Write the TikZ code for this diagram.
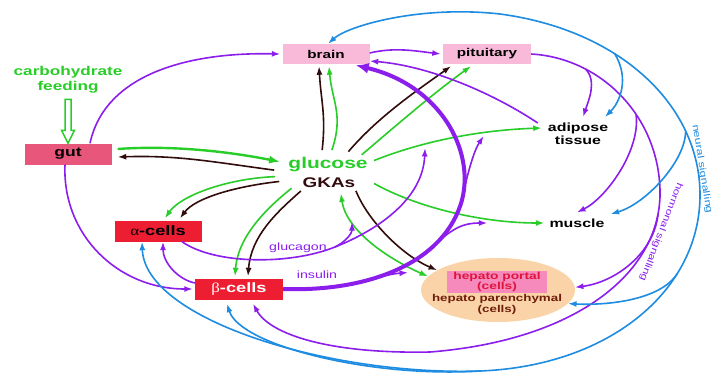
\documentclass[tikz,border=0pt]{standalone}
\usepackage{fontspec}
\setmainfont{Liberation Sans}[FakeStretch=1.35]
\newfontfamily\grk{Liberation Serif}[FakeStretch=1.25]
\usetikzlibrary{arrows.meta,shapes.geometric}
\definecolor{pur}{RGB}{140,30,235}
\definecolor{grn}{RGB}{40,205,40}
\definecolor{drk}{RGB}{50,12,12}
\definecolor{blu}{RGB}{30,140,225}
\definecolor{pinkbx}{RGB}{248,186,216}
\definecolor{gutc}{RGB}{232,86,124}
\definecolor{redbx}{RGB}{238,30,50}
\definecolor{portalc}{RGB}{246,138,188}
\definecolor{portalt}{RGB}{222,20,60}
\definecolor{peach}{RGB}{250,212,168}
\definecolor{brn}{RGB}{110,30,10}
\begin{document}
\begin{tikzpicture}[x=1pt,y=-1pt,
  atip/.style={-{Latex[length=8.5pt,width=6pt]}},
  cpur/.style={draw=pur,line width=1.6pt,atip},
  cgrn/.style={draw=grn,line width=1.6pt,atip},
  cdrk/.style={draw=drk,line width=1.6pt,atip},
  cblu/.style={draw=blu,line width=1.6pt,atip},
  twotips/.style={{Latex[length=8.5pt,width=6pt]}-{Latex[length=8.5pt,width=6pt]}},
  box/.style={minimum width=87pt,minimum height=20pt,inner sep=0pt,font=\bfseries\fontsize{11.3}{12}\selectfont},
  lbl/.style={inner sep=2pt,font=\bfseries\fontsize{11.8}{13}\selectfont,align=center},
  sig/.style={inner sep=1pt,font=\fontsize{9.2}{10}\selectfont}]
\useasboundingbox (0,0) rectangle (717,373);
\fill[white] (0,0) rectangle (717,373);
% nodes
\node[box,fill=pinkbx] (brain) at (326,54) {brain};
\node[box,fill=pinkbx,minimum width=88pt] (pit) at (487,54) {pituitary};
\node[box,fill=gutc,minimum height=21pt,font=\bfseries\fontsize{13}{14}\selectfont] (gut) at (68,154) {gut};
\node[box,fill=redbx,minimum height=21pt,font=\bfseries\fontsize{13.5}{14}\selectfont] (alpha) at (158,231) {{\grk\mdseries α}-cells};
\node[box,fill=redbx,minimum height=21pt,minimum width=88pt,text=white,font=\bfseries\fontsize{13.5}{14}\selectfont] (beta) at (239,289) {{\grk\mdseries β}-cells};
\node[lbl] (adip) at (578,134) {adipose\\tissue};
\node[lbl] (muscle) at (577,223) {muscle};
\node[inner sep=1pt,text=grn,font=\bfseries\fontsize{15.5}{16}\selectfont] (glu) at (328,165) {glucose};
\node[inner sep=1pt,text=drk,font=\bfseries\fontsize{14}{15}\selectfont] (gka) at (329,183) {GKAs};
\node[ellipse,minimum width=108pt,minimum height=44pt,inner sep=0pt,outer sep=0pt] (hub) at (328,172) {};
\node[lbl,text=grn,font=\bfseries\fontsize{12.7}{15}\selectfont] (feed) at (68,80) {carbohydrate\\feeding};
\node[ellipse,fill=peach,minimum width=154pt,minimum height=64pt,inner sep=0pt] (liver) at (498,290) {};
\node[fill=portalc,minimum width=100pt,minimum height=22pt,inner sep=0pt,align=center,text=portalt,font=\bfseries\fontsize{10.2}{10}\selectfont] (portal) at (497,282) {hepato portal\\(cells)};
\node[align=center,inner sep=0pt,text=brn,font=\bfseries\fontsize{9.9}{10.5}\selectfont] (paren) at (497,304.5) {hepato parenchymal\\(cells)};
\node[inner sep=0pt,text=pur,font=\fontsize{10.5}{12}\selectfont] (glab) at (298,248) {glucagon};
\node[inner sep=0pt,text=pur,font=\fontsize{10.5}{12}\selectfont] (ilab) at (317,275) {insulin};
\node[sig,text=blu,rotate=-81] (nlab) at (702,169) {neural signalling};
\node[sig,text=pur,rotate=-111,font=\fontsize{9}{10}\selectfont] (hlab) at (661,232) {hormonal signalling};
% hollow feeding arrow
\draw[grn,line width=1.5pt,fill=white] (gut.north) -- ++(6.5,-13) -- ++(-3.5,0) -- ++(0,-31) -- ++(-6,0) -- ++(0,31) -- ++(-3.5,0) -- cycle;
% coordinates
\coordinate (gb) at (335,247);
\coordinate (gluend) at (425,148);
\coordinate (gkend) at (352,222);
\coordinate (ib) at (462,200);
\coordinate (h1) at (660,190);
\coordinate (h2) at (430,352);
\coordinate (n1) at (480,371);
\coordinate (n2) at (700,195);
\coordinate (n3) at (500,14);
% green / dark from glucose hub
\draw[cgrn,line width=2.4pt,-{Latex[length=11pt,width=8pt]}] ([xshift=6pt,yshift=5pt]gut.east) .. controls +(55,-4) and +(-50,-10) .. (hub.168);
\draw[cdrk] (hub.178) .. controls +(-60,-8) and +(60,-2) .. ([xshift=6pt,yshift=-3pt]gut.east);
\draw[cgrn] (hub.185) .. controls +(-50,2) and +(15,-22) .. ([xshift=7pt,yshift=2pt]alpha.north);
\draw[cdrk] (hub.191) .. controls +(-45,5) and +(15,-20) .. ([xshift=22pt,yshift=2pt]alpha.north);
\draw[cgrn] (hub.204) .. controls +(-25,20) and +(3,-40) .. ([xshift=-4pt,yshift=2pt]beta.north);
\draw[cdrk] (hub.215) .. controls +(-25,22) and +(3,-40) .. ([xshift=9pt,yshift=2pt]beta.north);
\draw[cdrk] (hub.105) .. controls +(4,-35) and +(2,35) .. ([xshift=-7pt,yshift=-2pt]brain.south);
\draw[cgrn] (hub.80) .. controls +(12,-35) and +(3,35) .. ([xshift=3pt,yshift=-2pt]brain.south);
\draw[cdrk] (hub.45) .. controls +(30,-35) and +(-35,25) .. ([xshift=-36pt,yshift=-2pt]pit.south);
\draw[cgrn] (hub.27) .. controls +(35,-30) and +(-35,25) .. ([xshift=-16pt,yshift=-2pt]pit.south);
\draw[cgrn] (hub.14) .. controls +(50,-20) and +(-60,2) .. ([xshift=-4pt,yshift=6pt]adip.west);
\draw[cgrn] (hub.-14) .. controls +(45,25) and +(-60,0) .. ([xshift=-3pt]muscle.west);
\draw[cdrk] (hub.-34) .. controls +(12,30) and +(-35,-15) .. (liver.162);
\draw[cgrn,twotips] (liver.169) .. controls +(-45,-20) and +(5,35) .. (hub.-59);
% purple
\draw[cpur] ([xshift=22pt]gut.north) .. controls +(15,-70) and +(-90,-2) .. ([xshift=-2pt]brain.west);
\draw[cpur] ([xshift=-3pt]gut.south) .. controls +(-3,70) and +(-75,0) .. ([xshift=-2pt]beta.west);
\draw[cpur] ([yshift=1pt]brain.east) .. controls +(25,-6) and +(-25,-3) .. ([xshift=-2pt]pit.west);
\draw[cpur] ([xshift=-8pt,yshift=-2pt]adip.north west) .. controls +(-45,-30) and +(60,5) .. ([yshift=-7pt]brain.east);
\draw[cpur] ([yshift=6pt]beta.west) .. controls +(-18,-4) and +(0,20) .. ([xshift=5pt]alpha.south);
\draw[cpur] ([xshift=24pt]alpha.south) .. controls +(33,23) and +(-45,18) .. (gb) .. controls +(45,-18) and +(-2,50) .. (gluend);
\draw[cpur] (gb) .. controls +(10,-5) and +(0,12) .. (gkend);
\draw[draw=pur,line width=4pt,-{Latex[length=13pt,width=11pt]}] (beta.east) .. controls +(87,3) and +(-17,62) .. (ib) coordinate[pos=.35] (ins1) coordinate[pos=.75] (ins2) .. controls +(13,-50) and +(84,20) .. ([xshift=-14pt,yshift=-1pt]brain.south east);
\draw[cpur] (ins1) .. controls +(15,-4) and +(-15,1) .. ([xshift=-25pt]liver.165);
\draw[cpur] (ins2) .. controls +(15,-12) and +(-25,0) .. ([xshift=-60pt]muscle.west);
\draw[cpur] (ib) .. controls +(5,-25) and +(-10,15) .. ([xshift=-62pt,yshift=-2pt]adip.west);
% hormonal signalling
\draw[cpur] (pit.east) .. controls +(69,4) and +(-2,-75) .. (h1) coordinate[pos=.28] (hA) coordinate[pos=.62] (hM) .. controls +(2,80) and +(150,-12) .. (h2) coordinate[pos=.1] (hH) .. controls +(-100,2) and +(17,31) .. ([xshift=14pt,yshift=-4pt]beta.south);
\draw[cpur] (hA) .. controls +(12,12) and +(5,-15) .. ([xshift=5pt,yshift=4pt]adip.north);
\draw[cpur] (hM) .. controls +(5,35) and +(30,-15) .. ([yshift=4pt]muscle.north);
\draw[cpur] (hH) .. controls +(-4,40) and +(40,-5) .. (liver.2);
% neural signalling
\draw[cblu,twotips] ([xshift=-16pt]alpha.south) .. controls +(3,78) and +(-150,5) .. (n1) .. controls +(130,-5) and +(0,95) .. (n2) coordinate[pos=.7] (nH) .. controls +(0,-90) and +(120,16) .. (n3) coordinate[pos=.25] (nM) coordinate[pos=.63] (nA) .. controls +(-80,-9) and +(20,-18) .. ([xshift=2pt]brain.north);
\draw[cblu] (n1) .. controls +(-110,7) and +(13,41.5) .. ([xshift=-12pt,yshift=-4pt]beta.south);
\draw[cblu] (nA) .. controls +(15,25) and +(15,-15) .. ([xshift=27pt,yshift=4pt]adip.north);
\draw[cblu] (nM) .. controls +(0,30) and +(35,-10) .. ([xshift=4pt,yshift=9pt]muscle.east);
\draw[cblu] (nH) .. controls +(-17,26) and +(40,2) .. (liver.-11);
\end{tikzpicture}
\end{document}
